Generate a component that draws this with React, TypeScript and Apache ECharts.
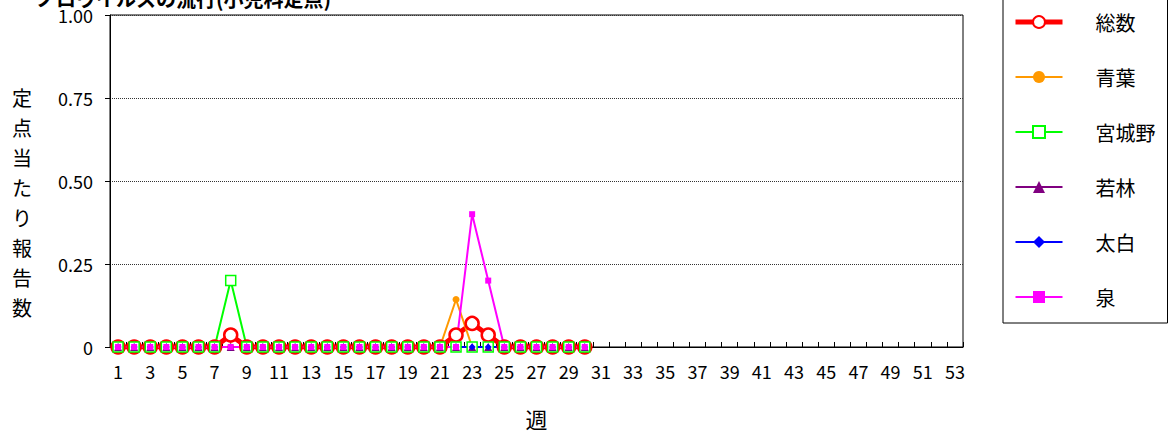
import React, { useEffect, useRef } from "react";
import * as echarts from "echarts";

const titleText = "ノロウイルスの流行(小児科定点)";
const yAxisTitle = "定点当たり報告数";
const xAxisTitle = "週";

const weeks = [
  "1", "2", "3", "4", "5", "6", "7", "8", "9", "10",
  "11", "12", "13", "14", "15", "16", "17", "18", "19", "20",
  "21", "22", "23", "24", "25", "26", "27", "28", "29", "30",
  "31", "32", "33", "34", "35", "36", "37", "38", "39", "40",
  "41", "42", "43", "44", "45", "46", "47", "48", "49", "50",
  "51", "52", "53",
];

const seriesNames = ["総数", "青葉", "宮城野", "若林", "太白", "泉"];

const total = [
  0, 0, 0, 0, 0, 0, 0, 0.036, 0, 0,
  0, 0, 0, 0, 0, 0, 0, 0, 0, 0,
  0, 0.036, 0.071, 0.036, 0, 0, 0, 0, 0, 0,
];
const aoba = [
  0, 0, 0, 0, 0, 0, 0, 0, 0, 0,
  0, 0, 0, 0, 0, 0, 0, 0, 0, 0,
  0, 0.143, 0, 0, 0, 0, 0, 0, 0, 0,
];
const miyagino = [
  0, 0, 0, 0, 0, 0, 0, 0.2, 0, 0,
  0, 0, 0, 0, 0, 0, 0, 0, 0, 0,
  0, 0, 0, 0, 0, 0, 0, 0, 0, 0,
];
const wakabayashi = [
  0, 0, 0, 0, 0, 0, 0, 0, 0, 0,
  0, 0, 0, 0, 0, 0, 0, 0, 0, 0,
  0, 0, 0, 0, 0, 0, 0, 0, 0, 0,
];
const taihaku = [
  0, 0, 0, 0, 0, 0, 0, 0, 0, 0,
  0, 0, 0, 0, 0, 0, 0, 0, 0, 0,
  0, 0, 0, 0, 0, 0, 0, 0, 0, 0,
];
const izumi = [
  0, 0, 0, 0, 0, 0, 0, 0, 0, 0,
  0, 0, 0, 0, 0, 0, 0, 0, 0, 0,
  0, 0, 0.4, 0.2, 0, 0, 0, 0, 0, 0,
];

const FONT = '"Noto Sans CJK JP", "Noto Sans", sans-serif';

export default function App() {
  const ref = useRef<HTMLDivElement>(null);

  useEffect(() => {
    if (!ref.current) return;
    const chart = echarts.init(ref.current, undefined, { renderer: "svg" });

    const thin = (
      name: string,
      data: number[],
      color: string,
      symbol: string,
      size: number,
      hollow = false
    ) => ({
      name,
      type: "line",
      data,
      symbol,
      symbolSize: size,
      showSymbol: true,
      showAllSymbol: true,
      lineStyle: { color, width: 2 },
      itemStyle: hollow
        ? { color: "#ffffff", borderColor: color, borderWidth: 1.5 }
        : { color, borderColor: color, borderWidth: 0 },
      emphasis: { disabled: true },
    });

    chart.setOption({
      animation: false,
      textStyle: { fontFamily: FONT, color: "#000" },
      title: {
        text: titleText,
        left: 36,
        top: -12,
        padding: 0,
        textStyle: { fontFamily: FONT, fontSize: 20, fontWeight: "bold", color: "#000" },
      },
      grid: {
        left: 110,
        top: 15,
        width: 853,
        height: 334,
        show: true,
        borderColor: "#000",
        borderWidth: 1,
        backgroundColor: "transparent",
      },
      legend: {
        orient: "vertical",
        left: 1003,
        top: -20,
        padding: [32, 12, 16, 10],
        itemGap: 35,
        itemWidth: 47,
        itemHeight: 15,
        borderColor: "#000",
        borderWidth: 1,
        backgroundColor: "#fff",
        data: [
          { name: seriesNames[0], lineStyle: { width: 5, color: "#ff0000" } },
          { name: seriesNames[1], lineStyle: { width: 2 } },
          { name: seriesNames[2], lineStyle: { width: 2 } },
          { name: seriesNames[3], lineStyle: { width: 2 } },
          { name: seriesNames[4], lineStyle: { width: 2 } },
          { name: seriesNames[5], lineStyle: { width: 2 } },
        ],
        textStyle: {
          fontFamily: FONT,
          fontSize: 20,
          lineHeight: 20,
          color: "#000",
          padding: [0, 0, 0, 28],
        },
      },
      xAxis: {
        type: "category",
        data: weeks,
        boundaryGap: true,
        name: xAxisTitle,
        nameLocation: "middle",
        nameGap: 60,
        nameTextStyle: { fontFamily: FONT, fontSize: 22, color: "#000" },
        axisLine: { show: true, lineStyle: { color: "#000", width: 1 } },
        axisTick: { show: true, inside: true, length: 5, interval: 0, lineStyle: { color: "#000" } },
        axisLabel: { interval: 1, margin: 15, fontSize: 18, color: "#000", fontFamily: FONT },
        splitLine: { show: false },
      },
      yAxis: {
        type: "value",
        min: 0,
        max: 1,
        interval: 0.25,
        axisLine: { show: true, lineStyle: { color: "#000", width: 1 } },
        axisTick: { show: true, inside: false, length: 5, lineStyle: { color: "#000" } },
        axisLabel: {
          margin: 17,
          fontSize: 18,
          color: "#000",
          fontFamily: FONT,
          formatter: (v: number) => (v === 0 ? "0" : v.toFixed(2)),
        },
        splitLine: { show: true, lineStyle: { color: "#333", type: "dotted", width: 1 } },
      },
      graphic: [
        {
          type: "text",
          x: 22,
          y: 202,
          style: {
            text: yAxisTitle.split("").join("\n"),
            fontFamily: FONT,
            fontSize: 20,
            lineHeight: 30,
            align: "center",
            verticalAlign: "middle",
            fill: "#000",
          },
        },
      ],
      series: [
        {
          name: seriesNames[0],
          type: "line",
          data: total,
          symbol: "circle",
          symbolSize: 13,
          showSymbol: true,
          showAllSymbol: true,
          lineStyle: { color: "#ff0000", width: 5 },
          itemStyle: { color: "#ffffff", borderColor: "#ff0000", borderWidth: 2.5 },
          emphasis: { disabled: true },
        },
        thin(seriesNames[1], aoba, "#ff9900", "circle", 7),
        thin(seriesNames[2], miyagino, "#00ff00", "rect", 10, true),
        thin(seriesNames[3], wakabayashi, "#800080", "triangle", 8),
        thin(seriesNames[4], taihaku, "#0000ff", "diamond", 7),
        thin(seriesNames[5], izumi, "#ff00ff", "rect", 6),
      ],
    });

    return () => chart.dispose();
  }, []);

  return (
    <div
      ref={ref}
      style={{ position: "absolute", left: 0, top: 0, width: 1171, height: 434 }}
    />
  );
}
